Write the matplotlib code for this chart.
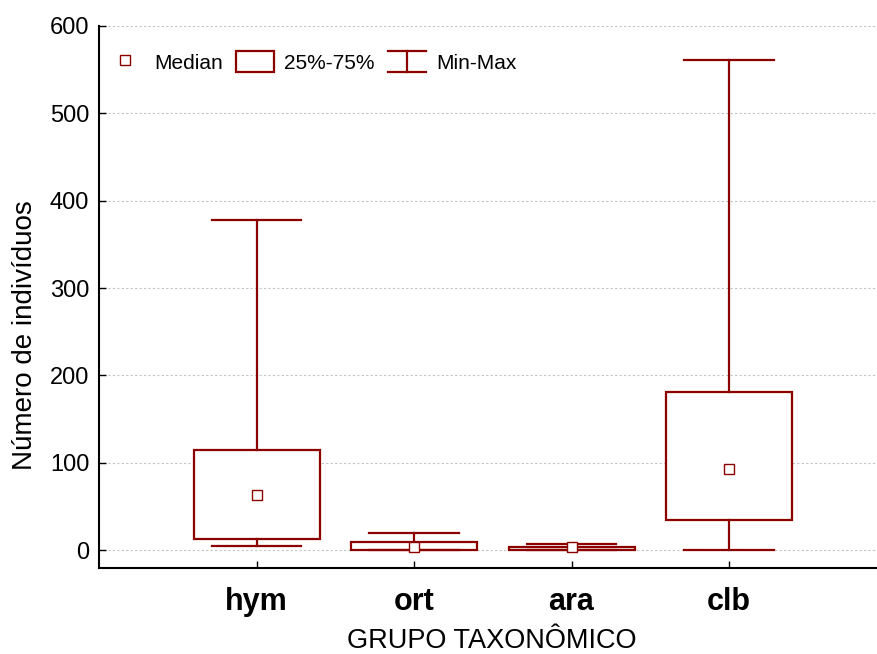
import matplotlib
matplotlib.use("Agg")
import matplotlib.pyplot as plt
from matplotlib.lines import Line2D
from matplotlib.patches import Rectangle
from matplotlib.legend_handler import HandlerBase

plt.rcParams['font.family'] = ['Liberation Sans', 'DejaVu Sans']

categories = ['hym', 'ort', 'ara', 'clb']
mins = [5, 0, 0, 0]
q1s = [13, 0, 0.5, 35]
medians = [63, 3, 3, 93]
q3s = [115, 9, 3, 181]
maxs = [378, 20, 7, 561]
yticks = [0, 100, 200, 300, 400, 500, 600]

RED = '#8c0000'

fig = plt.figure(figsize=(8.77, 6.54), dpi=100)
ax = fig.add_axes([99/877, 1-568/654, 1-99/877, (568-26)/654])

positions = list(range(1, len(categories) + 1))
stats = []
for c, lo, a, m, b, hi in zip(categories, mins, q1s, medians, q3s, maxs):
    stats.append(dict(label=c, whislo=lo, q1=a, med=m, q3=b, whishi=hi, fliers=[]))

ax.bxp(stats, positions=positions, widths=0.8, capwidths=0.57,
       patch_artist=True, showfliers=False,
       boxprops=dict(facecolor='white', edgecolor=RED, linewidth=1.6),
       whiskerprops=dict(color=RED, linewidth=1.6),
       capprops=dict(color=RED, linewidth=1.6),
       medianprops=dict(visible=False), zorder=3)
ax.plot(positions, medians, linestyle='none', marker='s', markersize=7.5,
        markerfacecolor='white', markeredgecolor=RED, markeredgewidth=1.0, zorder=5)

ax.set_xlim(0, 778/157.5)
ax.set_ylim(-20.5, 600)
ax.set_yticks(yticks)
ax.set_xticks(positions)
ax.set_xticklabels(categories, fontsize=22, fontweight='bold')
ax.tick_params(axis='y', direction='in', length=5, width=1, labelsize=17, pad=7)
ax.tick_params(axis='x', direction='in', length=5, width=1, pad=14)
ax.grid(axis='y', linestyle=(0, (2, 2)), color='#c4c4c4', linewidth=0.8)
ax.set_axisbelow(True)
for s in ['top', 'right']:
    ax.spines[s].set_visible(False)
for s in ['left', 'bottom']:
    ax.spines[s].set_linewidth(1.5)

ax.set_xlabel('GRUPO TAXONÔMICO', fontsize=19.5)
ax.xaxis.label.set_va('center')
ax.xaxis.set_label_coords((492 - 99) / 778, (568 - 641) / 542)
ax.set_ylabel('Número de indivíduos', fontsize=20)
ax.yaxis.label.set_va('center')
ax.yaxis.set_label_coords((25 - 99) / 778, (568 - 335) / 542)


class MinMaxHandler(HandlerBase):
    def create_artists(self, legend, orig_handle, xdescent, ydescent, width,
                       height, fontsize, trans):
        x0, x1 = -xdescent, -xdescent + width
        y0, y1 = -ydescent, -ydescent + height
        xm = (x0 + x1) / 2
        arts = [Line2D([x0, x1], [y1, y1]), Line2D([x0, x1], [y0, y0]),
                Line2D([xm, xm], [y0, y1])]
        for a in arts:
            a.set_color(RED)
            a.set_linewidth(1.6)
            a.set_transform(trans)
        return arts


h_med = Line2D([], [], linestyle='none', marker='s', markersize=7.5,
               markerfacecolor='white', markeredgecolor=RED, markeredgewidth=1.0)
h_box = Rectangle((0, 0), 1, 1, facecolor='white', edgecolor=RED, linewidth=1.6)
h_mm = object()
leg = ax.legend([h_med, h_box, h_mm], ['Median', '25%-75%', 'Min-Max'],
                handler_map={h_mm: MinMaxHandler()},
                loc='upper left', bbox_to_anchor=(-0.0103, 0.981), ncol=3, frameon=False,
                fontsize=15, handlelength=1.83, handleheight=1.2,
                handletextpad=0.5, columnspacing=0.62, borderaxespad=0.3)

fig.savefig('out.png', dpi=100)
